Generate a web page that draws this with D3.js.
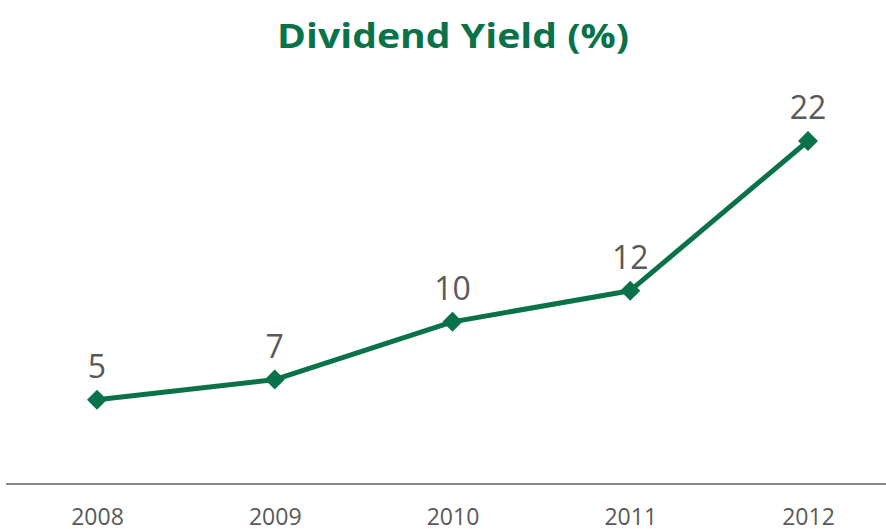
<!DOCTYPE html>
<html>
<head>
<meta charset="utf-8">
<script src="https://cdn.jsdelivr.net/npm/d3@7"></script>
<style>
  body { margin: 0; background: #fff; }
  svg { display: block; }
</style>
</head>
<body>
<div id="chart"></div>
<script>
var years = ["2008", "2009", "2010", "2011", "2012"];
var yieldValues = [5.4, 6.7, 10.4, 12.4, 22.0];
var chartTitle = "Dividend Yield (%)";

var width = 886, height = 529;
var green = "#0a7249";

var svg = d3.select("#chart").append("svg")
    .attr("width", width)
    .attr("height", height);

var x = d3.scalePoint().domain(years).range([97, 808]);
var y = d3.scaleLinear().domain([0, 22]).range([484, 141]);

svg.append("text")
    .attr("x", 453)
    .attr("y", 48)
    .attr("text-anchor", "middle")
    .attr("font-family", "Open Sans")
    .attr("font-weight", "bold")
    .attr("font-size", 34)
    .attr("fill", green)
    .attr("textLength", 352)
    .attr("lengthAdjust", "spacingAndGlyphs")
    .text(chartTitle);

// x axis: just the baseline and the year labels
var xAxis = svg.append("g")
    .attr("transform", "translate(0,484)")
    .call(d3.axisBottom(x).tickSize(0).tickPadding(25));
xAxis.select(".domain").remove();
xAxis.append("line")
    .attr("x1", 6).attr("x2", width)
    .attr("stroke", "#888").attr("stroke-width", 2);
xAxis.selectAll(".tick text")
    .attr("font-family", "Open Sans")
    .attr("font-size", 23)
    .attr("fill", "#595959");

var data = years.map(function(d, i) { return { year: d, value: yieldValues[i] }; });

var line = d3.line()
    .x(function(d) { return x(d.year); })
    .y(function(d) { return y(d.value); });

svg.append("path")
    .datum(data)
    .attr("fill", "none")
    .attr("stroke", green)
    .attr("stroke-width", 5)
    .attr("stroke-linejoin", "round")
    .attr("d", line);

svg.selectAll("path.marker")
    .data(data)
    .enter()
    .append("path")
      .attr("class", "marker")
      .attr("d", d3.symbol().type(d3.symbolSquare).size(200))
      .attr("transform", function(d) {
        return "translate(" + x(d.year) + "," + y(d.value) + ") rotate(45)";
      })
      .attr("fill", green);

svg.selectAll("text.label")
    .data(data)
    .enter()
    .append("text")
      .attr("class", "label")
      .attr("x", function(d) { return x(d.year); })
      .attr("y", function(d) { return y(d.value) - 22; })
      .attr("text-anchor", "middle")
      .attr("font-family", "Open Sans")
      .attr("font-size", 32)
      .attr("fill", "#595959")
      .text(function(d) { return d3.format(".0f")(d.value); });
</script>
</body>
</html>
